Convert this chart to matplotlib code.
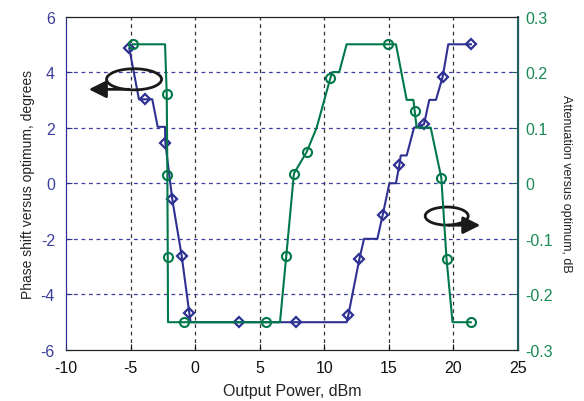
import matplotlib
matplotlib.use("Agg")
import matplotlib.pyplot as plt
from matplotlib.patches import Ellipse

plt.rcParams['font.family'] = ['Liberation Sans', 'DejaVu Sans']

# Phase shift (left axis) - line vertices
phase_x = [-5.1, -4.35, -3.88, -3.32, -2.90, -2.33, -2.31, -1.77, -1.04, -0.45, -0.35,
           3.4, 7.8, 11.73, 11.86, 12.71, 13.08, 14.11, 14.52, 15.04, 15.55, 15.81,
           15.92, 16.38, 16.95, 17.72, 18.13, 18.65, 19.17, 19.6, 21.36]
phase_y = [4.85, 3.02, 3.02, 3.02, 2.03, 2.03, 1.46, -0.58, -2.62, -4.68, -5.0,
           -5.0, -5.0, -5.0, -4.75, -2.74, -2.0, -2.0, -1.15, 0.0, 0.0, 0.65,
           1.0, 1.0, 2.0, 2.12, 3.0, 3.0, 3.84, 5.0, 5.0]
# marker positions (phase)
phase_mx = [-5.1, -3.88, -2.31, -1.77, -1.04, -0.45, 3.4, 7.8, 11.86, 12.71, 14.52,
            15.81, 17.72, 19.17, 21.36]
phase_my = [4.85, 3.02, 1.46, -0.58, -2.62, -4.68, -5.0, -5.0, -4.75, -2.74, -1.15,
            0.65, 2.12, 3.84, 5.0]

# Attenuation (right axis) - line vertices
att_x = [-4.81, -2.33, -2.2, -2.15, -2.12, -2.1, -0.84, 5.49, 6.57, 7.06, 7.65,
         8.63, 9.41, 10.48, 10.64, 11.16, 11.73, 14.96, 15.55, 16.38, 16.9, 17.0,
         17.15, 18.24, 19.06, 19.47, 19.93, 21.34]
att_y = [0.25, 0.25, 0.16, 0.015, -0.132, -0.25, -0.25, -0.25, -0.25, -0.13, 0.0175,
         0.056, 0.1, 0.19, 0.2, 0.2, 0.25, 0.25, 0.25, 0.15, 0.15, 0.13,
         0.1, 0.1, 0.01, -0.137, -0.25, -0.25]
att_mx = [-4.81, -2.2, -2.15, -2.12, -0.84, 5.49, 7.06, 7.65, 8.63, 10.48, 14.96,
          17.0, 19.06, 19.47, 21.34]
att_my = [0.25, 0.16, 0.015, -0.132, -0.25, -0.25, -0.13, 0.0175, 0.056, 0.19, 0.25,
          0.13, 0.01, -0.137, -0.25]

x_ticks = [-10, -5, 0, 5, 10, 15, 20, 25]
left_ticks = [-6, -4, -2, 0, 2, 4, 6]
right_ticks = [-0.3, -0.2, -0.1, 0, 0.1, 0.2, 0.3]
right_labels = ['-0.3', '-0.2', '-0.1', '0', '0.1', '0.2', '0.3']

BLUE = '#2e3192'
GREEN = '#00784a'
BLUE_TXT = '#3b3f9c'
GREEN_TXT = '#1a8a55'
TEAL = '#1f5f5f'

fig = plt.figure(figsize=(5.84, 4.02), dpi=100)
ax1 = fig.add_axes([66/584, 51/402, 452/584, 333.5/402])
ax2 = ax1.twinx()

ax1.set_xlim(-10, 25)
ax1.set_ylim(-6, 6)
ax2.set_ylim(-0.3, 0.3)

# grids
for xv in x_ticks[1:-1]:
    ax1.axvline(xv, color='#333333', ls=(0, (3, 3)), lw=0.9, zorder=0)
for yv in left_ticks[1:-1]:
    ax1.axhline(yv, color='#3b3fa0', ls=(0, (3, 3)), lw=0.9, zorder=0)

ax1.plot(phase_x, phase_y, color=BLUE, lw=1.5, zorder=3)
ax1.plot(phase_mx, phase_my, ls='none', marker='D', ms=5, mfc='none',
         mec=BLUE, mew=1.6, zorder=3)
ax2.plot(att_x, att_y, color=GREEN, lw=1.5, zorder=3)
ax2.plot(att_mx, att_my, ls='none', marker='o', ms=6.5, mfc='none',
         mec=GREEN, mew=1.5, zorder=3)

ax1.set_xticks(x_ticks)
ax1.set_xticklabels([str(v) for v in x_ticks])
ax1.set_yticks(left_ticks)
ax1.set_yticklabels([str(v) for v in left_ticks])
ax2.set_yticks(right_ticks)
ax2.set_yticklabels(right_labels)

ax1.tick_params(axis='x', direction='in', length=4, labelsize=11.5, colors='#111111', top=False, pad=7)
ax1.tick_params(axis='y', direction='in', length=4, labelsize=11.5, colors=BLUE, labelcolor=BLUE_TXT, pad=8)
ax2.tick_params(axis='y', direction='in', length=4, labelsize=11.5, colors=TEAL, labelcolor=GREEN_TXT, pad=5)

ax1.spines['left'].set_color(BLUE)
ax2.spines['left'].set_color(BLUE)
ax2.spines['right'].set_color(TEAL)
ax2.spines['right'].set_linewidth(1.5)
for a in (ax1, ax2):
    a.spines['top'].set_color('#222222')
    a.spines['bottom'].set_color('#222222')

ax1.set_xlabel('Output Power, dBm', fontsize=11.5, color='#222222', labelpad=6)
ax1.set_ylabel('Phase shift versus optimum, degrees', fontsize=10, color='#222222', labelpad=4)
ax2.set_ylabel('Attenuation versus optimum, dB', fontsize=9, color='#222222',
               rotation=-90, labelpad=14)

# annotations: ellipses with arrows
arrow_style = dict(arrowstyle='-|>,head_length=0.7,head_width=0.35',
                   color='#1a1a1a', lw=2, mutation_scale=15)
ax1.add_patch(Ellipse((-4.73, 3.74), 4.26, 0.76, fill=False, ec='#1a1a1a', lw=2, zorder=5))
ax1.annotate('', xy=(-8.45, 3.38), xytext=(-4.9, 3.38), arrowprops=arrow_style, zorder=5)
ax1.add_patch(Ellipse((19.48, -1.18), 3.33, 0.65, fill=False, ec='#1a1a1a', lw=2, zorder=5))
ax1.annotate('', xy=(22.3, -1.51), xytext=(19.4, -1.51), arrowprops=arrow_style, zorder=5)

fig.savefig('out.png', dpi=100)
